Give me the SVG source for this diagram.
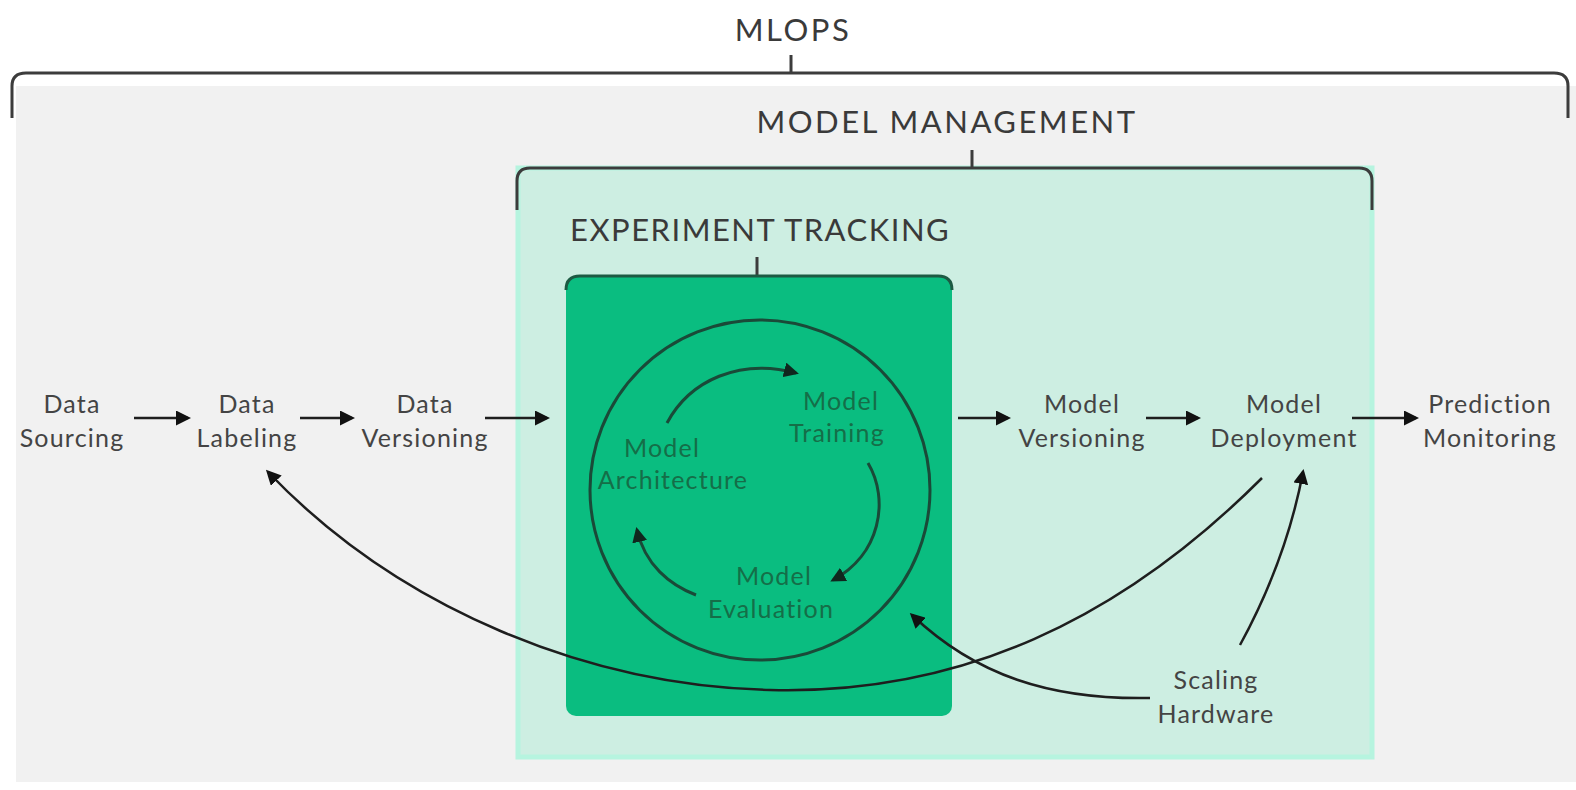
<svg xmlns="http://www.w3.org/2000/svg" width="1576" height="790" viewBox="0 0 1576 790">
  <style>
    .title { font-family: Lato, "Noto Sans", sans-serif; font-size: 31px; letter-spacing: 2.5px; fill: #3a3a3a; text-anchor: middle; }
    .lbl { font-family: Lato, "Noto Sans", sans-serif; font-size: 25px; letter-spacing: 1.2px; fill: #444444; text-anchor: middle; }
    .inner { font-family: Lato, "Noto Sans", sans-serif; font-size: 25px; letter-spacing: 1.2px; fill: #156e48; text-anchor: middle; }
    .brace { fill: none; stroke: #3c3c3c; stroke-width: 3; }
    .edge { fill: none; stroke: #1e1e1e; stroke-width: 2.5; marker-end: url(#arrow); }
    .cycle { fill: none; stroke: #1a4a38; stroke-width: 3; }
  </style>
  <defs>
    <marker id="arrow" viewBox="0 0 10 10" refX="8" refY="5" markerWidth="6" markerHeight="6" orient="auto" markerUnits="strokeWidth">
      <path d="M0,0 L10,5 L0,10 z" fill="#111"/>
    </marker>
    <marker id="arrowIn" viewBox="0 0 10 10" refX="8" refY="5" markerWidth="5" markerHeight="5" orient="auto" markerUnits="strokeWidth">
      <path d="M0,0 L10,5 L0,10 z" fill="#10271e"/>
    </marker>
  </defs>

  <rect x="0" y="0" width="1576" height="790" fill="#ffffff"/>

  <!-- MLOps container -->
  <g id="mlops">
    <rect x="16" y="86" width="1560" height="696" fill="#f1f1f1"/>
    <text class="title" x="793" y="41">MLOPS</text>
    <path class="brace" d="M12,118 V86 Q12,73 26,73 H1554 Q1568,73 1568,86 V118"/>
    <line class="brace" x1="791" y1="55" x2="791" y2="73"/>
  </g>

  <!-- Model management container -->
  <g id="model-management">
    <rect x="518" y="168" width="854" height="589" fill="#cdeee2" stroke="#b6f4df" stroke-width="5"/>
    <text class="title" x="947" y="133">MODEL MANAGEMENT</text>
    <path class="brace" d="M517,210 V181 Q517,168 530,168 H1359 Q1372,168 1372,181 V210"/>
    <line class="brace" x1="972" y1="150" x2="972" y2="168"/>
  </g>

  <!-- Experiment tracking container -->
  <g id="experiment-tracking">
    <text class="title" x="570" y="241" style="text-anchor:start; letter-spacing:1.5px">EXPERIMENT TRACKING</text>
    <line class="brace" x1="757" y1="257" x2="757" y2="276"/>
    <rect x="566" y="276" width="386" height="440" rx="10" fill="#0abd80"/>
    <path d="M566,290 Q566,276 580,276 H938 Q952,276 952,290" fill="none" stroke="#1d5a43" stroke-width="3"/>
    <circle class="cycle" cx="760" cy="490" r="170"/>
  </g>

  <!-- Training cycle -->
  <g id="model-architecture">
    <text class="inner" x="662" y="457">Model</text>
    <text class="inner" x="673" y="489">Architecture</text>
  </g>
  <g id="model-training">
    <text class="inner" x="841" y="410">Model</text>
    <text class="inner" x="837" y="442">Training</text>
  </g>
  <g id="model-evaluation">
    <text class="inner" x="774" y="585">Model</text>
    <text class="inner" x="771" y="618">Evaluation</text>
  </g>

  <!-- Pipeline stages -->
  <g id="data-sourcing">
    <text class="lbl" x="72" y="413">Data</text>
    <text class="lbl" x="72" y="447">Sourcing</text>
  </g>
  <g id="data-labeling">
    <text class="lbl" x="247" y="413">Data</text>
    <text class="lbl" x="247" y="447">Labeling</text>
  </g>
  <g id="data-versioning">
    <text class="lbl" x="425" y="413">Data</text>
    <text class="lbl" x="425" y="447">Versioning</text>
  </g>
  <g id="model-versioning">
    <text class="lbl" x="1082" y="413">Model</text>
    <text class="lbl" x="1082" y="447">Versioning</text>
  </g>
  <g id="model-deployment">
    <text class="lbl" x="1284" y="413">Model</text>
    <text class="lbl" x="1284" y="447">Deployment</text>
  </g>
  <g id="prediction-monitoring">
    <text class="lbl" x="1490" y="413">Prediction</text>
    <text class="lbl" x="1490" y="447">Monitoring</text>
  </g>
  <g id="scaling-hardware">
    <text class="lbl" x="1216" y="689">Scaling</text>
    <text class="lbl" x="1216" y="723">Hardware</text>
  </g>

  <!-- Connectors -->
  <g id="connectors">
    <path class="edge" d="M134,418 H188"/>
    <path class="edge" d="M300,418 H352"/>
    <path class="edge" d="M485,418 H547"/>
    <path class="edge" d="M958,418 H1008"/>
    <path class="edge" d="M1146,418 H1198"/>
    <path class="edge" d="M1352,418 H1416"/>
    <path class="edge" d="M1262,478 C1120,620 960,695 770,690 C590,686 400,610 268,472"/>
    <path class="edge" d="M1150,698 C1050,700 975,675 912,615"/>
    <path class="edge" d="M1240,645 C1270,590 1292,530 1303,472"/>
    <path class="cycle" marker-end="url(#arrowIn)" d="M667,423 C690,380 740,358 796,373"/>
    <path class="cycle" marker-end="url(#arrowIn)" d="M868,463 C890,500 880,555 833,580"/>
    <path class="cycle" marker-end="url(#arrowIn)" d="M696,595 C670,585 645,565 637,530"/>
  </g>
</svg>
